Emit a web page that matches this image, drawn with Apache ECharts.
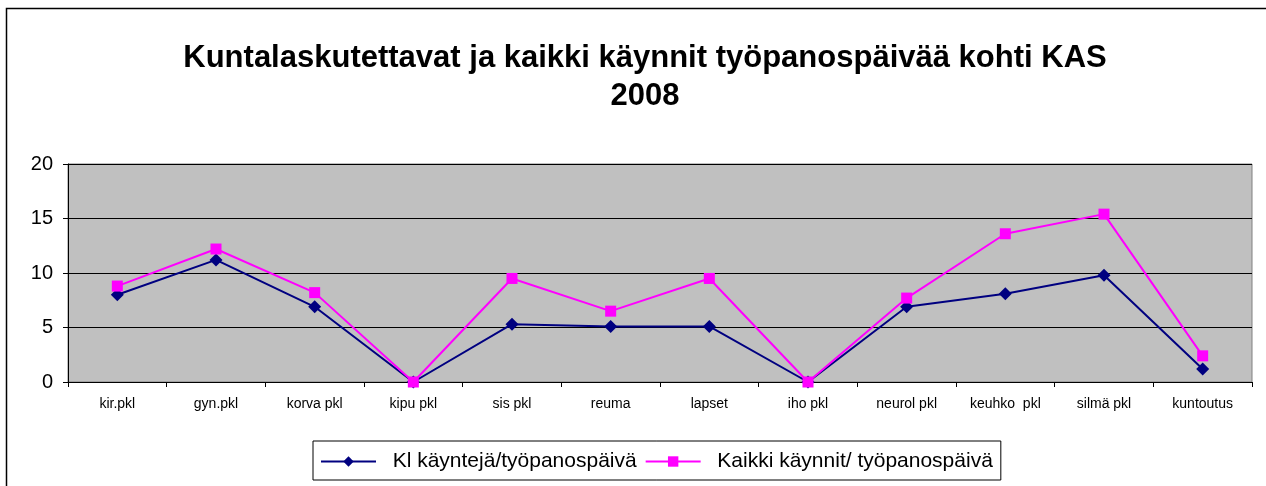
<!DOCTYPE html>
<html lang="fi">
<head>
    <meta charset="utf-8">
    <script src="https://cdn.jsdelivr.net/npm/echarts@6/dist/echarts.min.js"></script>
    <style>
        html, body { margin: 0; padding: 0; background: #fff; }
        #chart { width: 1266px; height: 486px; }
    </style>
</head>
<body>
    <div id="chart"></div>
    <script type="text/javascript">
        var categories = ['kir.pkl', 'gyn.pkl', 'korva pkl', 'kipu pkl', 'sis pkl', 'reuma', 'lapset', 'iho pkl', 'neurol pkl', 'keuhko  pkl', 'silmä pkl', 'kuntoutus'];
        var klKaynnit = [8.0, 11.2, 6.9, 0, 5.3, 5.1, 5.1, 0, 6.9, 8.1, 9.8, 1.2];
        var kaikkiKaynnit = [8.8, 12.2, 8.2, 0, 9.5, 6.5, 9.5, 0, 7.7, 13.6, 15.4, 2.4];

        var font = 'Liberation Sans, Arial, sans-serif';
        var myChart = echarts.init(document.getElementById('chart'));

        var option = {
            animation: false,
            textStyle: { fontFamily: font },
            title: {
                text: 'Kuntalaskutettavat ja kaikki käynnit työpanospäivää kohti KAS\n2008',
                left: 640,
                textAlign: 'center',
                top: 34,
                textStyle: { fontSize: 31, fontWeight: 'bold', color: '#000', lineHeight: 38, fontFamily: font }
            },
            graphic: [{
                type: 'rect',
                shape: { x: 6.5, y: 8.5, width: 1300, height: 600 },
                style: { fill: 'none', stroke: '#000', lineWidth: 1.5 },
                silent: true
            }],
            legend: {
                left: 313,
                top: 441,
                padding: [10, 8, 8, 7],
                borderColor: '#000',
                borderWidth: 1,
                itemWidth: 55,
                itemHeight: 13,
                itemGap: 8,
                formatter: function (name) { return '  ' + name; },
                textStyle: { fontSize: 21, color: '#000', fontFamily: font },
                data: ['Kl käyntejä/työpanospäivä', 'Kaikki käynnit/ työpanospäivä']
            },
            grid: {
                left: 68,
                right: 14,
                top: 164,
                bottom: 104,
                show: true,
                backgroundColor: '#c0c0c0',
                borderColor: '#808080',
                borderWidth: 1
            },
            xAxis: {
                type: 'category',
                data: categories,
                boundaryGap: true,
                axisLine: { lineStyle: { color: '#000', width: 1 } },
                axisTick: { show: true, alignWithLabel: false, length: 5, lineStyle: { color: '#000' } },
                axisLabel: { fontSize: 14, color: '#000', margin: 15, interval: 0 }
            },
            yAxis: {
                type: 'value',
                min: 0,
                max: 20,
                interval: 5,
                axisLine: { show: true, lineStyle: { color: '#000', width: 1 } },
                axisTick: { show: true, length: 5, lineStyle: { color: '#000' } },
                axisLabel: { fontSize: 20, color: '#000', margin: 15 },
                splitLine: { show: true, lineStyle: { color: '#000', width: 1 } }
            },
            series: [{
                name: 'Kl käyntejä/työpanospäivä',
                type: 'line',
                data: klKaynnit,
                symbol: 'diamond',
                symbolSize: 13,
                lineStyle: { color: '#000080', width: 2 },
                itemStyle: { color: '#000080' }
            }, {
                name: 'Kaikki käynnit/ työpanospäivä',
                type: 'line',
                data: kaikkiKaynnit,
                symbol: 'rect',
                symbolSize: 11,
                lineStyle: { color: '#ff00ff', width: 2 },
                itemStyle: { color: '#ff00ff' }
            }]
        };

        myChart.setOption(option);
    </script>
</body>
</html>
